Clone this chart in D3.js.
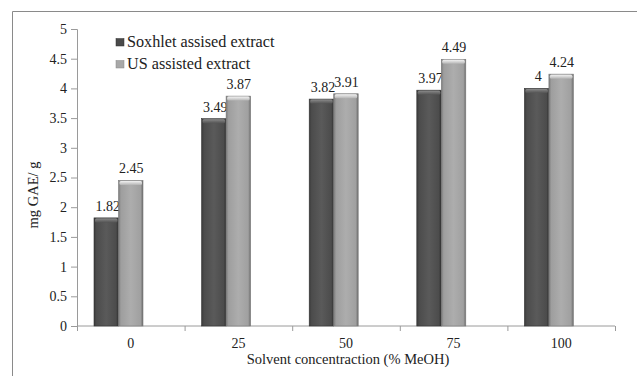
<!DOCTYPE html>
<html><head><meta charset="utf-8">
<script src="https://cdn.jsdelivr.net/npm/d3@7/dist/d3.min.js"></script>
<style>body{margin:0;background:#fff}svg{display:block}</style>
</head><body>
<svg id="c" width="637" height="376"></svg>
<script>
const categories = ["0", "25", "50", "75", "100"];
const seriesNames = ["Soxhlet assised extract", "US assisted extract"];
const soxhlet = [1.82, 3.49, 3.82, 3.97, 4];
const usAssisted = [2.45, 3.87, 3.91, 4.49, 4.24];
const yTicks = [0, 0.5, 1, 1.5, 2, 2.5, 3, 3.5, 4, 4.5, 5];

const FONT = "'Liberation Serif', 'DejaVu Serif', serif";
const svg = d3.select("#c").attr("font-family", FONT);
const m = {l: 77, r: 615, t: 29, b: 326};
const x0 = d3.scaleBand().domain(categories).range([m.l, m.r]);
const x1 = d3.scaleBand().domain([0, 1]).range([17, 66]);
const y = d3.scaleLinear().domain([0, 5]).range([m.b, m.t]);

// frame
svg.append("path").attr("d", "M12.5,376 V11.5 H637").attr("fill", "none").attr("stroke", "#8a8a8a");

const defs = svg.append("defs");
function grad(id, stops, vertical) {
  const g = defs.append("linearGradient").attr("id", id)
    .attr("x1", 0).attr("x2", vertical ? 0 : 1).attr("y1", 0).attr("y2", vertical ? 1 : 0);
  stops.forEach(s => g.append("stop").attr("offset", s[0]).attr("stop-color", s[1]));
}
grad("gd", [[0, "#3a3a3a"], [0.1, "#4c4c4c"], [0.5, "#5a5a5a"], [0.9, "#4c4c4c"], [1, "#303030"]]);
grad("gl", [[0, "#7a7a7a"], [0.1, "#9e9e9e"], [0.5, "#adadad"], [0.9, "#a0a0a0"], [1, "#6c6c6c"]]);
grad("cd", [[0, "#8c8c8c"], [0.5, "#6e6e6e"], [1, "#555"]], true);
grad("cl", [[0, "#f2f2f2"], [0.5, "#d4d4d4"], [1, "#b4b4b4"]], true);

function styleText(sel, size) {
  sel.attr("font-family", FONT).style("font-family", FONT).style("font-size", size + "px").attr("fill", "#222");
}

// y axis
const yAxis = d3.axisLeft(y).tickValues(yTicks).tickSize(6).tickPadding(4).tickFormat(d => String(d));
const ya = svg.append("g").attr("transform", `translate(${m.l},0)`).call(yAxis).attr("font-family", FONT);
ya.select(".domain").attr("stroke", "#9a9a9a");
ya.selectAll(".tick line").attr("stroke", "#9a9a9a");
styleText(ya.selectAll(".tick text"), 14);

// x axis
const xa = svg.append("g").attr("transform", `translate(0,${m.b})`);
xa.append("line").attr("x1", m.l).attr("x2", m.r).attr("stroke", "#9a9a9a");
const bounds = categories.map(c => x0(c)).concat([m.r]);
xa.selectAll("line.t").data(bounds).join("line").attr("class", "t")
  .attr("x1", d => d + 0.5).attr("x2", d => d + 0.5).attr("y1", 0).attr("y2", 5).attr("stroke", "#9a9a9a");
styleText(xa.selectAll("text").data(categories).join("text")
  .attr("x", d => x0(d) + x0.bandwidth() / 2).attr("y", 22)
  .attr("text-anchor", "middle").text(d => d), 14);

// bars
const series = [soxhlet, usAssisted];
const fills = ["url(#gd)", "url(#gl)"];
const caps = ["url(#cd)", "url(#cl)"];
series.forEach((vals, si) => {
  const g = svg.append("g");
  const bx = c => x0(c) + x1(si);
  const w = x1.bandwidth();
  g.selectAll("rect.b").data(categories).join("rect").attr("class", "b")
    .attr("x", c => bx(c)).attr("width", w)
    .attr("y", (c, i) => y(vals[i])).attr("height", (c, i) => m.b - y(vals[i]))
    .attr("fill", fills[si]).attr("stroke", si ? "#7a7a7a" : "#333").attr("stroke-width", 0.6);
  g.selectAll("rect.c").data(categories).join("rect").attr("class", "c")
    .attr("x", c => bx(c) + 1).attr("width", w - 2)
    .attr("y", (c, i) => y(vals[i]) + 0.5).attr("height", 4)
    .attr("rx", 1.5).attr("fill", caps[si]);
  styleText(g.selectAll("text").data(categories).join("text")
    .attr("x", c => bx(c) + w / 2 + (si ? 0.5 : 1.5))
    .attr("y", (c, i) => y(vals[i]) - 7)
    .attr("text-anchor", "middle")
    .text((c, i) => String(vals[i])), 14);
});

// legend
const lg = svg.append("g");
seriesNames.forEach((n, i) => {
  lg.append("rect").attr("x", 116).attr("y", 38.5 + i * 22).attr("width", 8).attr("height", 7.5)
    .attr("fill", i ? "#a8a8a8" : "#4a4a4a").attr("stroke", i ? "#888" : "#333").attr("stroke-width", 0.5);
  styleText(lg.append("text").attr("x", 127).attr("y", 47 + i * 22).text(n), 16.2);
});

// axis titles
styleText(svg.append("text").attr("transform", "translate(38,195) rotate(-90)").attr("text-anchor", "middle")
  .text("mg  GAE/ g"), 14.5);
styleText(svg.append("text").attr("x", 348).attr("y", 364).attr("text-anchor", "middle")
  .text("Solvent concentraction (% MeOH)"), 14.5);
</script>
</body></html>
